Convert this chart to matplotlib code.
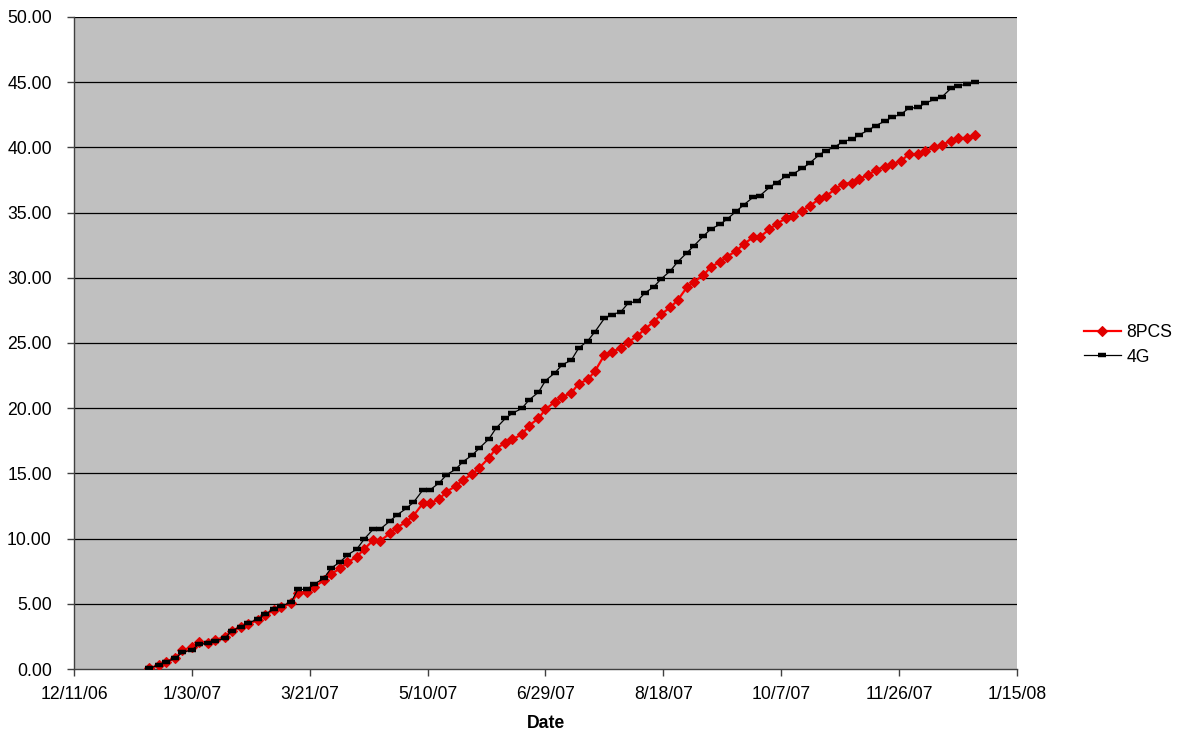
import matplotlib
matplotlib.use("Agg")
import matplotlib.pyplot as plt
import pandas as pd
import numpy as np

# Sampling dates: twice weekly (Tuesdays and Fridays), 1/12/07 .. 12/28/07
dates = pd.date_range("2007-01-12", "2007-12-28", freq="W-FRI").union(
    pd.date_range("2007-01-12", "2007-12-28", freq="W-TUE"))

series_8pcs = [
    0.05, 0.31, 0.56, 0.82, 1.46, 1.66, 2.09, 2.02, 2.22, 2.48,
    2.94, 3.25, 3.45, 3.76, 4.14, 4.52, 4.73, 5.04, 5.85, 5.93,
    6.31, 6.80, 7.28, 7.72, 8.18, 8.61, 9.18, 9.89, 9.84, 10.40,
    10.84, 11.30, 11.76, 12.70, 12.70, 13.04, 13.60, 14.03, 14.50, 14.95,
    15.44, 16.20, 16.90, 17.35, 17.61, 18.00, 18.66, 19.22, 19.91, 20.50,
    20.84, 21.19, 21.86, 22.21, 22.85, 24.08, 24.33, 24.59, 25.05, 25.54,
    26.05, 26.63, 27.20, 27.74, 28.27, 29.27, 29.70, 30.21, 30.80, 31.23,
    31.62, 32.08, 32.57, 33.10, 33.15, 33.72, 34.13, 34.56, 34.74, 35.15,
    35.51, 36.02, 36.27, 36.81, 37.19, 37.29, 37.60, 37.88, 38.27, 38.52,
    38.70, 38.98, 39.47, 39.47, 39.72, 40.01, 40.18, 40.51, 40.70, 40.74,
    40.95,
]

series_4g = [
    0.05, 0.31, 0.56, 0.82, 1.28, 1.46, 1.89, 1.97, 2.17, 2.35,
    2.94, 3.25, 3.55, 3.81, 4.22, 4.58, 4.83, 5.11, 6.11, 6.11,
    6.52, 6.95, 7.72, 8.23, 8.74, 9.20, 9.94, 10.74, 10.74, 11.35,
    11.81, 12.32, 12.78, 13.73, 13.73, 14.29, 14.88, 15.34, 15.90, 16.41,
    16.95, 17.64, 18.46, 19.22, 19.61, 19.99, 20.63, 21.22, 22.11, 22.72,
    23.31, 23.70, 24.59, 25.18, 25.87, 26.89, 27.15, 27.40, 28.04, 28.22,
    28.81, 29.32, 29.90, 30.54, 31.21, 31.92, 32.46, 33.20, 33.72, 34.10,
    34.49, 35.12, 35.58, 36.17, 36.30, 36.94, 37.29, 37.80, 37.96, 38.40,
    38.78, 39.42, 39.75, 40.06, 40.44, 40.63, 40.95, 41.33, 41.66, 42.02,
    42.31, 42.56, 43.00, 43.07, 43.38, 43.69, 43.84, 44.53, 44.73, 44.84,
    45.04,
]

series_labels = ["8PCS", "4G"]
x_start, x_end = "2006-12-11", "2008-01-15"
x_tick_dates = pd.date_range(x_start, x_end, freq="50D")
y_ticks = np.arange(0, 50.01, 5)

plt.rcParams["font.family"] = ["Liberation Sans", "DejaVu Sans"]
FS = 12.7

fig = plt.figure(figsize=(11.84, 7.36), dpi=100)
ax = fig.add_axes([74 / 1184, 1 - 669 / 736, (1017 - 74) / 1184, (669 - 17) / 736])
ax.set_facecolor("#C0C0C0")

for y in y_ticks[1:]:
    ax.axhline(y, color="black", lw=0.9, zorder=1)

ax.plot(dates, series_8pcs, color="#FF0000", lw=1.6, marker="D", ms=5.5, mew=0.8,
        mfc="#E00000", mec="#E00000", label=series_labels[0], zorder=3)
ax.plot(dates, series_4g, color="black", lw=0.9, marker="_", ms=5.3, mew=3.2,
        label=series_labels[1], zorder=4)

ax.set_xlim(pd.Timestamp(x_start), pd.Timestamp(x_end))
ax.set_ylim(0, 50)
ax.set_xticks(x_tick_dates)
ax.set_xticklabels([f"{d.month}/{d.day}/{d.strftime('%y')}" for d in x_tick_dates])
ax.set_yticks(y_ticks)
ax.set_yticklabels([f"{v:.2f}" for v in y_ticks])
ax.tick_params(axis="both", labelsize=FS, direction="out", length=5, width=1,
               color="#404040")
ax.tick_params(axis="y", pad=11)
ax.tick_params(axis="x", pad=7)

for s in ["top", "right"]:
    ax.spines[s].set_visible(False)
for s in ["left", "bottom"]:
    ax.spines[s].set_color("#404040")
    ax.spines[s].set_linewidth(1)

ax.set_xlabel("Date", fontsize=FS, fontweight="bold", labelpad=9)

leg = ax.legend(loc="center left", bbox_to_anchor=(1068 / 1184, 1 - 345 / 736),
                bbox_transform=fig.transFigure, frameon=False,
                fontsize=FS, handlelength=2.1, labelspacing=0.4, handletextpad=0.3)

fig.savefig("out.png", dpi=100, facecolor="white")
